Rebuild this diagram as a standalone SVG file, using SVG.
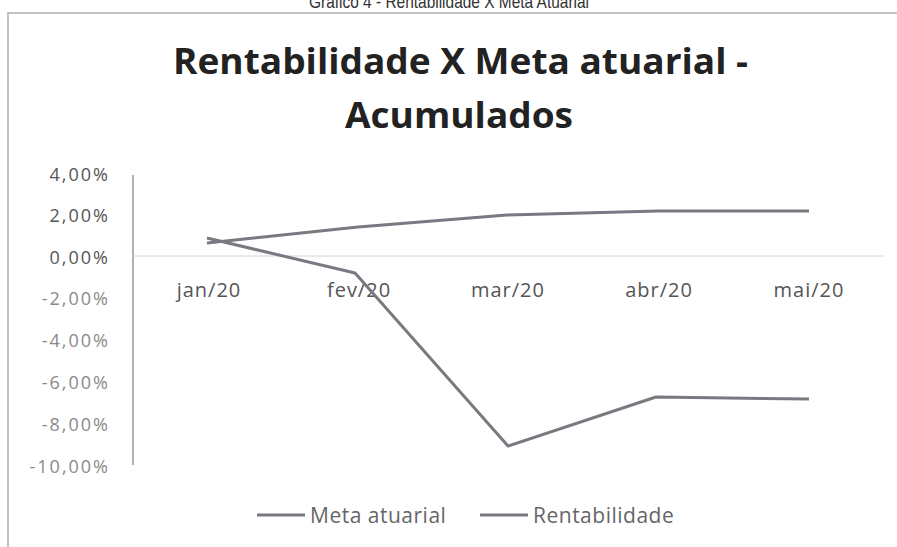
<svg xmlns="http://www.w3.org/2000/svg" width="897" height="547" viewBox="0 0 897 547">
<style>
.cap{font-family:"Liberation Sans",Arial,sans-serif;font-size:19px;fill:#333;text-anchor:middle;}
.title{font-family:"Open Sans","Liberation Sans",Arial,sans-serif;font-weight:bold;font-size:36px;fill:#222;}
.ylab{font-family:"Open Sans","Liberation Sans",Arial,sans-serif;font-size:18px;letter-spacing:2px;fill:#555;text-anchor:end;}
.ylab.lt{fill:#8a8a8a;}
.xlab{font-family:"Open Sans","Liberation Sans",Arial,sans-serif;font-size:20px;letter-spacing:1px;fill:#555;text-anchor:middle;}
.leg{font-family:"Open Sans","Liberation Sans",Arial,sans-serif;font-size:21px;letter-spacing:0.5px;fill:#666;}
.series{fill:none;stroke:#7a7880;stroke-width:3;stroke-linejoin:round;}
.border{fill:none;stroke:#b0b0b0;stroke-width:1.5;}
</style>
<rect x="0" y="0" width="897" height="547" fill="#ffffff"/>
<text class="cap" x="449" y="8" textLength="280" lengthAdjust="spacingAndGlyphs">Gráfico 4 - Rentabilidade X Meta Atuarial</text>
<path class="border" d="M8,547 V13 H897"/>
<g id="title">
<text class="title" x="173" y="74" textLength="575" lengthAdjust="spacingAndGlyphs">Rentabilidade X Meta atuarial -</text>
<text class="title" x="345" y="128" textLength="228" lengthAdjust="spacingAndGlyphs">Acumulados</text>
</g>
<g id="axes">
<line x1="133" y1="175" x2="133" y2="465" stroke="#999" stroke-width="1.5"/>
<line x1="133" y1="256" x2="884" y2="256" stroke="#d4d4d4" stroke-width="1"/>
<text class="ylab" x="110" y="181">4,00%</text>
<text class="ylab" x="110" y="222">2,00%</text>
<text class="ylab" x="110" y="264">0,00%</text>
<text class="ylab lt" x="110" y="305">-2,00%</text>
<text class="ylab lt" x="110" y="347">-4,00%</text>
<text class="ylab lt" x="110" y="389">-6,00%</text>
<text class="ylab lt" x="110" y="431">-8,00%</text>
<text class="ylab lt" x="110" y="473">-10,00%</text>
<text class="xlab" x="209" y="297">jan/20</text>
<text class="xlab" x="359" y="297">fev/20</text>
<text class="xlab" x="508" y="297">mar/20</text>
<text class="xlab" x="659" y="297">abr/20</text>
<text class="xlab" x="809" y="297">mai/20</text>
</g>
<g id="connectors">
<polyline id="meta" class="series" points="207,243 358,227 507,215 658,211 809,211"/>
<polyline id="rent" class="series" points="207,238 355,273 508,446 656,397 809,399"/>
</g>
<g id="legend">
<line x1="257" y1="515" x2="305" y2="515" class="series"/>
<text class="leg" x="310" y="523">Meta atuarial</text>
<line x1="480" y1="515" x2="528" y2="515" class="series"/>
<text class="leg" x="533" y="523">Rentabilidade</text>
</g>
</svg>
